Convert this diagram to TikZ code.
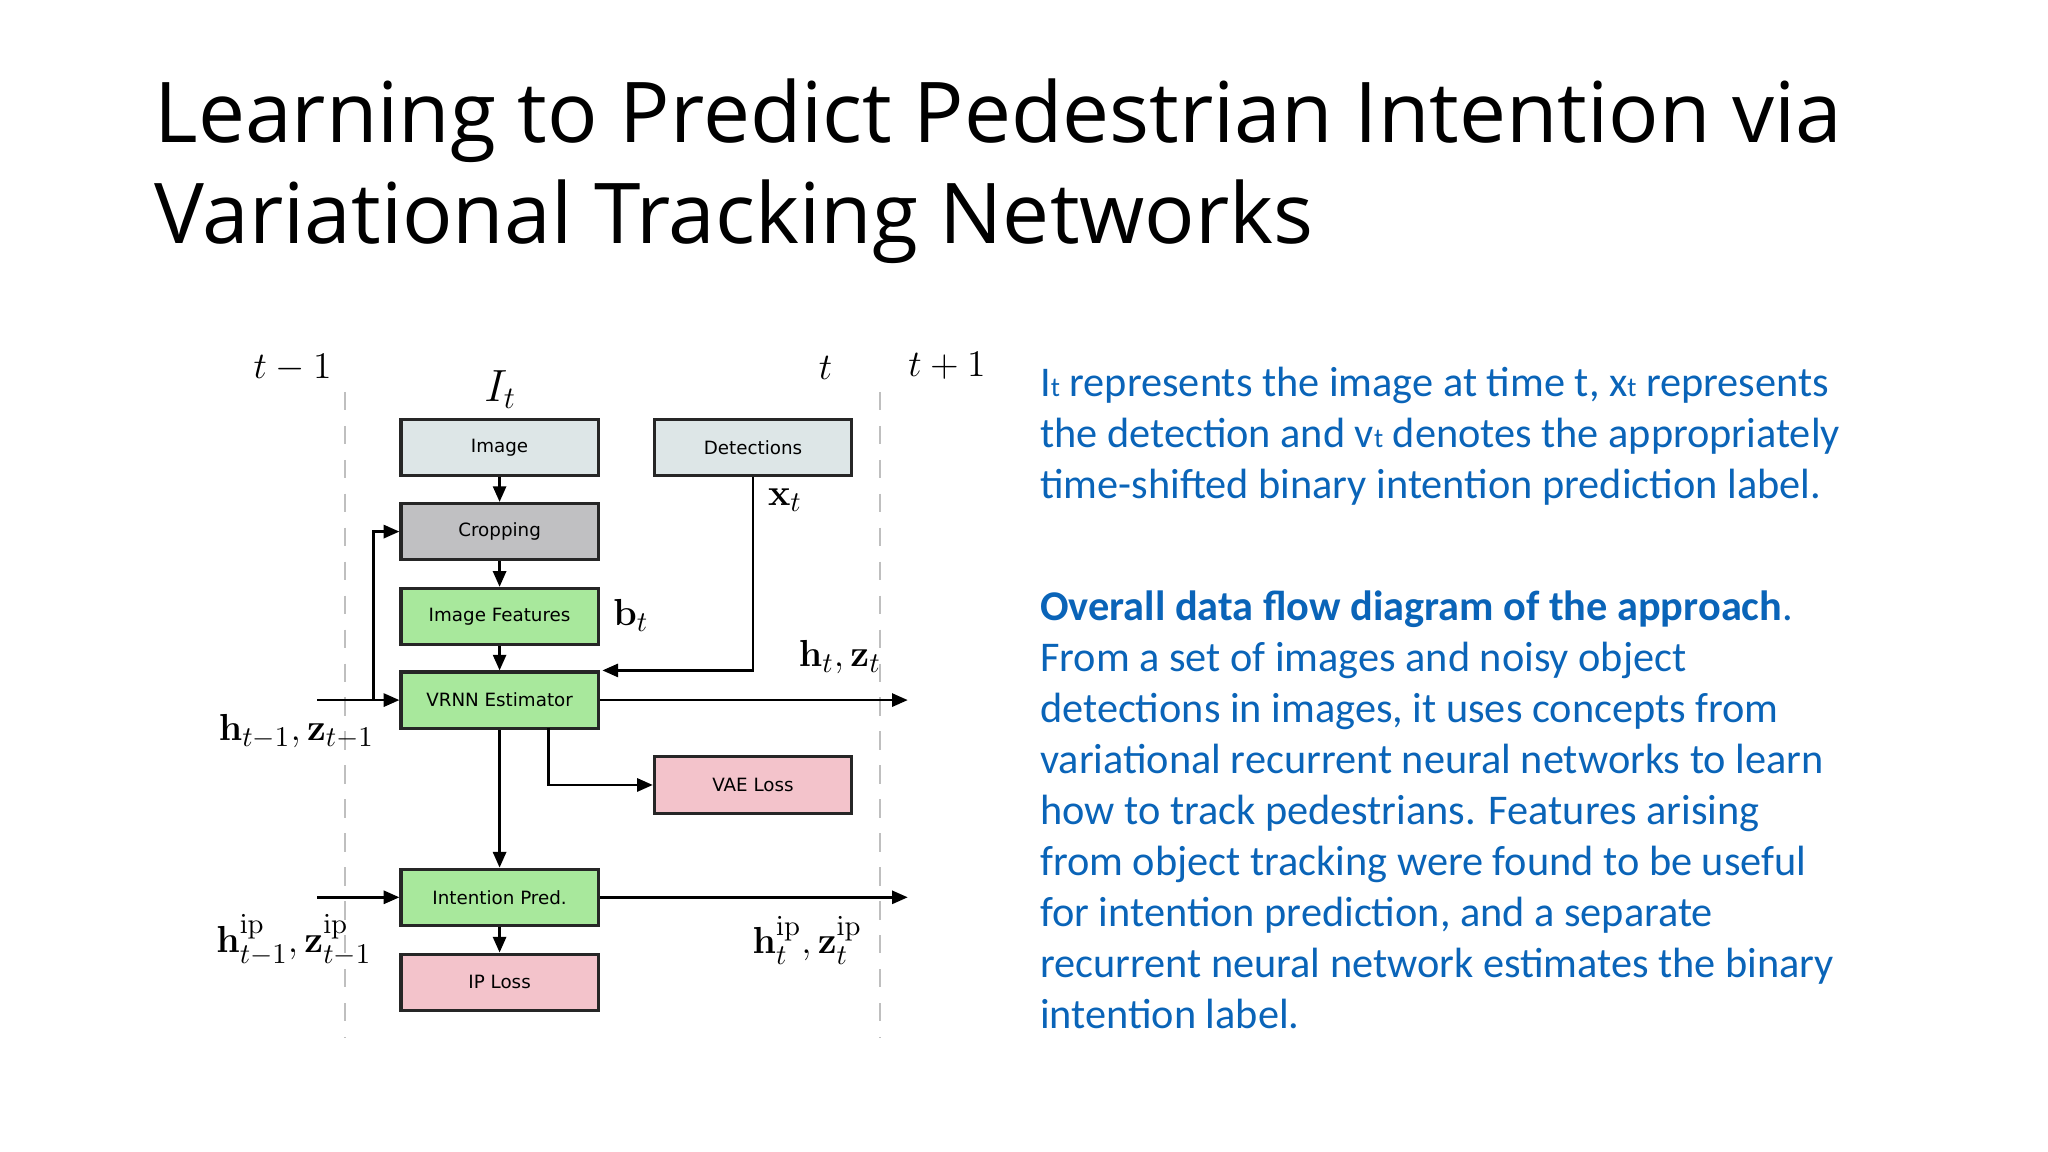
\documentclass[tikz,border=0pt]{standalone}
\usepackage{amsmath}
\usepackage[no-math]{fontspec}
\setmainfont{Carlito}
\newfontfamily\titlefont{Open Sans}
\newfontfamily\boxfont{DejaVu Sans}
\usetikzlibrary{arrows.meta}
\definecolor{blueT}{HTML}{0A64B8}
\definecolor{cIn}{HTML}{DDE6E7}
\definecolor{cCrop}{HTML}{C0C0C2}
\definecolor{cGreen}{HTML}{A8E89C}
\definecolor{cPink}{HTML}{F3C3CB}
\tikzset{
 box/.style={draw=black!85,line width=1.2pt,minimum width=75.5pt,minimum height=21.5pt,inner sep=0pt,font=\boxfont\fontsize{7}{8}\selectfont},
 arr/.style={line width=1pt,-{Triangle[length=6pt,width=5pt]}},
 dline/.style={draw=black!25,line width=0.8pt,dash pattern=on 7pt off 6pt},
 ml/.style={font=\fontsize{15}{15}\selectfont,inner sep=0pt}
}
\begin{document}
\begin{tikzpicture}[x=0.5pt,y=-0.5pt]
\useasboundingbox (0,0) rectangle (1568,882);
\node[anchor=west,inner sep=0pt,align=left,font=\titlefont\fontsize{32.1}{38.5}\selectfont] (title) at (118,131) {Learning to Predict Pedestrian Intention via\\Variational Tracking Networks};
% dashed lines
\coordinate (d1a) at (264,300); \coordinate (d1b) at (264,795);
\coordinate (d2a) at (674,300); \coordinate (d2b) at (674,795);
\draw[dline] (d1a) -- (d1b);
\draw[dline] (d2a) -- (d2b);
% boxes
\node[box,fill=cIn] (img) at (382.5,342.5) {Image};
\node[box,fill=cIn] (det) at (576.5,342.5) {Detections};
\node[box,fill=cCrop] (crop) at (382.5,407) {Cropping};
\node[box,fill=cGreen] (feat) at (382.5,472) {Image Features};
\node[box,fill=cGreen] (vrnn) at (382.5,536) {VRNN Estimator};
\node[box,fill=cPink] (vae) at (576.5,601) {VAE Loss};
\node[box,fill=cGreen] (ip) at (382.5,687) {Intention Pred.};
\node[box,fill=cPink] (iploss) at (382.5,752) {IP Loss};
% labels
\node[ml] (ltm1) at (224,282) {$t-1$};
\node[ml,font=\fontsize{18}{18}\selectfont] (lIt) at (383,298) {$I_t$};
\node[ml] (lt) at (632,282) {$t$};
\node[ml] (ltp1) at (725,280) {$t+1$};
\node[ml] (lxt) at (601,383) {$\mathbf{x}_t$};
\node[ml] (lbt) at (483,471) {$\mathbf{b}_t$};
\node[ml] (lhz) at (643,503) {$\mathbf{h}_t,\mathbf{z}_t$};
\node[ml] (lhz1) at (227,560) {$\mathbf{h}_{t-1},\mathbf{z}_{t-1}$};
\node[ml] (lhip1) at (225,720) {$\mathbf{h}^{\mathrm{ip}}_{t-1},\mathbf{z}^{\mathrm{ip}}_{t-1}$};
\node[ml] (lhip) at (618,720) {$\mathbf{h}^{\mathrm{ip}}_{t},\mathbf{z}^{\mathrm{ip}}_{t}$};
% connectors
\coordinate (in1) at (243,536);
\coordinate (br) at (286,536);
\coordinate (out1) at (695,536);
\coordinate (in2) at (243,687);
\coordinate (out2) at (695,687);
\coordinate (vb) at (420,557);
\draw[arr] (img) -- (crop);
\draw[arr] (crop) -- (feat);
\draw[arr] (feat) -- (vrnn);
\draw[arr] (in1) -- (vrnn.west);
\draw[arr] (br) |- (crop.west);
\draw[arr] (det.south) |- ([xshift=1pt]vrnn.north east);
\draw[arr] (vrnn.east) -- (out1);
\draw[arr] (vb) |- (vae.west);
\draw[arr] (vrnn) -- (ip);
\draw[arr] (in2) -- (ip.west);
\draw[arr] (ip.east) -- (out2);
\draw[arr] (ip) -- (iploss);
% text
\node[anchor=north west,inner sep=0pt,align=left,text=blueT,font=\fontsize{16.2}{19.5}\selectfont] (t1) at (796,281) {I{\fontsize{10.5}{10}\selectfont t} represents the image at time t, x{\fontsize{10.5}{10}\selectfont t} represents\\the detection and v{\fontsize{10.5}{10}\selectfont t} denotes the appropriately\\time-shifted binary intention prediction label.};
\node[anchor=north west,inner sep=0pt,align=left,text=blueT,font=\fontsize{16.2}{19.5}\selectfont] (t2) at (796,452) {\textbf{Overall data flow diagram of the approach}.\\From a set of images and noisy object\\detections in images, it uses concepts from\\variational recurrent neural networks to learn\\how to track pedestrians. Features arising\\from object tracking were found to be useful\\for intention prediction, and a separate\\recurrent neural network estimates the binary\\intention label.};
\end{tikzpicture}
\end{document}
